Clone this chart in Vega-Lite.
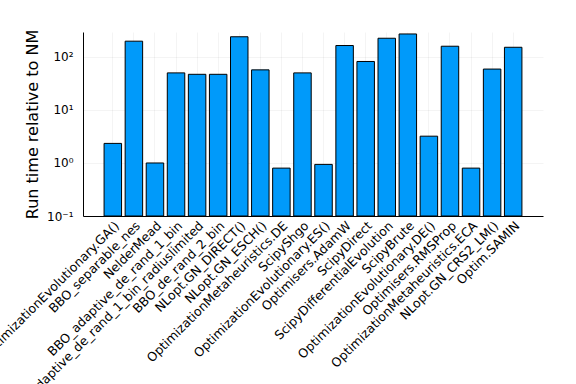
{
  "$schema": "https://vega.github.io/schema/vega-lite/v6.json",
  "width": 460,
  "height": 184,
  "autosize": {"type": "none"},
  "padding": {"left": 83, "top": 32, "right": 33, "bottom": 168},
  "background": "white",
  "config": {
    "font": "DejaVu Sans",
    "view": {"stroke": null}
  },
  "data": {
    "values": [
      {"method": "OptimizationEvolutionary.GA()", "time": 2.34},
      {"method": "BBO_separable_nes", "time": 198},
      {"method": "NelderMead", "time": 1.0},
      {"method": "BBO_adaptive_de_rand_1_bin", "time": 50},
      {"method": "BBO_adaptive_de_rand_1_bin_radiuslimited", "time": 47},
      {"method": "BBO_de_rand_2_bin", "time": 47},
      {"method": "NLopt.GN_DIRECT()", "time": 240},
      {"method": "NLopt.GN_ESCH()", "time": 57},
      {"method": "OptimizationMetaheuristics.DE", "time": 0.8},
      {"method": "ScipyShgo", "time": 50},
      {"method": "OptimizationEvolutionary.ES()", "time": 0.94},
      {"method": "Optimisers.AdamW", "time": 164},
      {"method": "ScipyDirect", "time": 82},
      {"method": "ScipyDifferentialEvolution", "time": 225},
      {"method": "ScipyBrute", "time": 271},
      {"method": "OptimizationEvolutionary.DE()", "time": 3.2},
      {"method": "Optimisers.RMSProp", "time": 159},
      {"method": "OptimizationMetaheuristics.ECA", "time": 0.8},
      {"method": "NLopt.GN_CRS2_LM()", "time": 59},
      {"method": "Optim.SAMIN", "time": 152}
    ]
  },
  "mark": {"type": "bar", "color": "#009AFA", "stroke": "black", "strokeWidth": 1},
  "encoding": {
    "x": {
      "field": "method",
      "type": "nominal",
      "sort": null,
      "scale": {"paddingInner": 0.17, "paddingOuter": 1.235},
      "axis": {
        "title": null,
        "labelAngle": -45,
        "labelAlign": "right",
        "labelBaseline": "top",
        "labelFontSize": 12.5,
        "labelColor": "black",
        "labelLimit": 0,
        "labelPadding": 3,
        "ticks": false,
        "domainColor": "black",
        "domainWidth": 1,
        "grid": true,
        "gridColor": "#000000",
        "gridOpacity": 0.08,
        "gridWidth": 0.6
      }
    },
    "y": {
      "field": "time",
      "type": "quantitative",
      "scale": {"type": "log", "domain": [0.1, 295], "nice": false},
      "axis": {
        "title": "Run time relative to NM",
        "titleFontSize": 16,
        "titleFontWeight": "normal",
        "titleColor": "black",
        "titlePadding": 6,
        "values": [0.1, 1, 10, 100],
        "labelExpr": "datum.value < 0.5 ? '10⁻¹' : datum.value < 5 ? '10⁰' : datum.value < 50 ? '10¹' : '10²'",
        "labelFontSize": 12,
        "labelColor": "black",
        "ticks": false,
        "labelPadding": 10,
        "domainColor": "black",
        "domainWidth": 1,
        "grid": true,
        "gridColor": "#000000",
        "gridOpacity": 0.08,
        "gridWidth": 0.6
      }
    },
    "y2": {"datum": 0.1}
  }
}
